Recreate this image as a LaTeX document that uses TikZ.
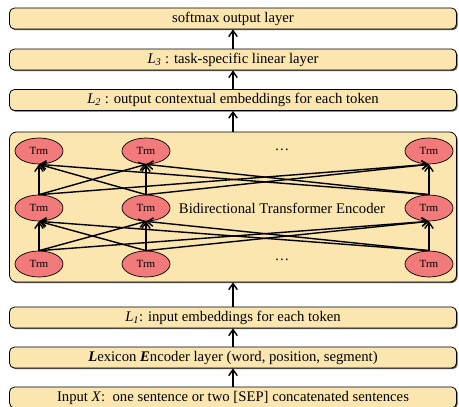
\documentclass[tikz,border=0pt]{standalone}
\usepackage{fontspec}
\setmainfont{Liberation Serif}
\usetikzlibrary{shapes.geometric,shadows,arrows.meta}
\definecolor{boxfill}{HTML}{FCE6B0}
\definecolor{trmfill}{HTML}{F27A7A}
\begin{document}
\begin{tikzpicture}[x=1pt,y=-1pt,
  shad/.style={drop shadow={shadow xshift=1.2pt, shadow yshift=-1.2pt, fill=black!65, opacity=1}},
  layer/.style={draw=black, line width=0.8pt, rounded corners=5pt, fill=boxfill, shad,
    minimum width=447pt, minimum height=21pt, inner sep=0pt, font=\fontsize{14.7}{17}\selectfont},
  bigbox/.style={draw=black, line width=0.8pt, rounded corners=7pt, fill=boxfill, shad,
    minimum width=447pt, minimum height=150pt, inner sep=0pt},
  trm/.style={ellipse, draw=black, line width=0.7pt, fill=trmfill, minimum width=48pt, minimum height=26pt,
    inner sep=0pt, font=\fontsize{11}{13}\selectfont},
  arr/.style={line width=1.4pt, -{Straight Barb[length=6pt,width=8.5pt,line width=1.4pt]}},
  lbl/.style={font=\fontsize{14.7}{17}\selectfont}
]
\useasboundingbox (0,0) rectangle (459,407);
\node[layer] (soft) at (233,18.5) {softmax output layer};
\node[layer] (l3) at (233,59.5) {\textit{L}\textsubscript{\textit{3}} : task-specific linear layer};
\node[layer] (l2) at (233,100) {\textit{L}\textsubscript{\textit{2}} : output contextual embeddings for each token};
\node[bigbox] (enc) at (233,207) {};
\node[layer] (l1) at (233,317.5) {\textit{L}\textsubscript{\textit{1}}: input embeddings for each token};
\node[layer] (lex) at (233,357.5) {\textbf{\textit{L}}exicon \textbf{\textit{E}}ncoder layer (word, position, segment)};
\node[layer] (inp) at (233,397.5) {Input \textit{X}:\ \ one sentence or two [SEP] concatenated sentences};

\draw[arr] (l3.north) -- (soft.south);
\draw[arr] (l2.north) -- (l3.south);
\draw[arr] (enc.north) -- (l2.south);
\draw[arr] (l1.north) -- (enc.south);
\draw[arr] (lex.north) -- (l1.south);
\draw[arr] (inp.north) -- (lex.south);

\foreach \i/\x in {1/39,2/146,4/429}{
  \node[trm] (t\i) at (\x,151) {Trm};
  \node[trm] (m\i) at (\x,208) {Trm};
  \node[trm] (b\i) at (\x,264) {Trm};
}
\foreach \i in {1,2,4}{
  \foreach \j in {1,2,4}{
    \draw[arr] (b\i.north) -- (m\j.south);
    \draw[arr] (m\i.north) -- (t\j.south);
  }
}
\node[lbl] (dt) at (282,150) {\dots};
\node[lbl] (db) at (282,260) {\dots};
\node[lbl] (enclbl) at (282,208) {Bidirectional Transformer Encoder};
\end{tikzpicture}
\end{document}
